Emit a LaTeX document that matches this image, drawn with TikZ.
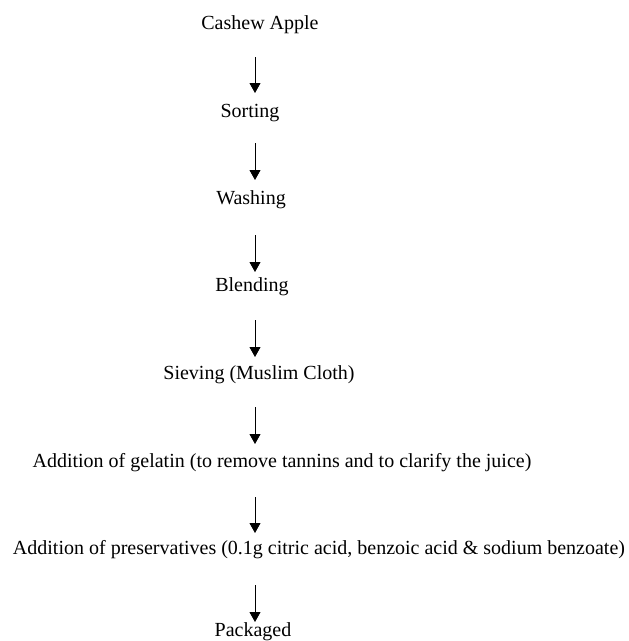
\documentclass[tikz,border=0pt]{standalone}
\usepackage{fontspec}
\setmainfont{Liberation Serif}
\usetikzlibrary{arrows.meta}
\begin{document}
\begin{tikzpicture}[x=1pt,y=-1pt,
  lbl/.style={inner sep=0pt,font=\fontsize{20}{22}\selectfont,anchor=base},
  flow/.style={-{Triangle[width=11pt,length=10pt]},line width=0.9pt}]
\useasboundingbox (0,0) rectangle (629,641);
\node[lbl] (n1) at (260,29) {Cashew Apple};
\node[lbl] (n2) at (250,117) {Sorting};
\node[lbl] (n3) at (251,204) {Washing};
\node[lbl] (n4) at (252,291) {Blending};
\node[lbl] (n5) at (259,379) {Sieving (Muslim Cloth)};
\node[lbl] (n6) at (282,467) {Addition of gelatin (to remove tannins and to clarify the juice)};
\node[lbl] (n7) at (319,554) {Addition of preservatives (0.1g citric acid, benzoic acid \& sodium benzoate)};
\node[lbl] (n8) at (253,636) {Packaged};
\coordinate (s1) at (255,57);  \coordinate (e1) at (255,93);
\coordinate (s2) at (255,143); \coordinate (e2) at (255,180);
\coordinate (s3) at (255,235); \coordinate (e3) at (255,272);
\coordinate (s4) at (255,320); \coordinate (e4) at (255,357);
\coordinate (s5) at (255,407); \coordinate (e5) at (255,444);
\coordinate (s6) at (255,497); \coordinate (e6) at (255,533);
\coordinate (s7) at (255,585); \coordinate (e7) at (255,622);
\foreach \i in {1,...,7} \draw[flow] (s\i) -- (e\i);
\end{tikzpicture}
\end{document}
